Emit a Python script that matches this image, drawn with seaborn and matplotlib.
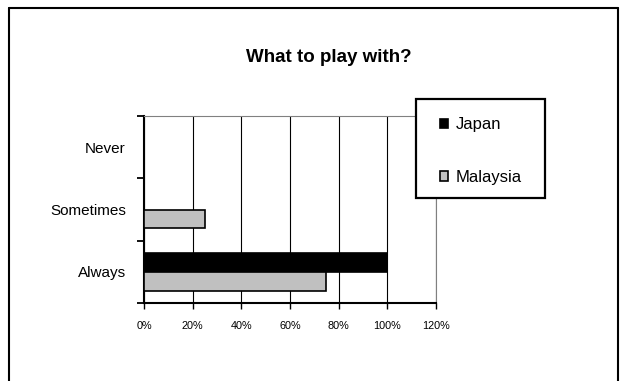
import matplotlib
matplotlib.use("Agg")
import matplotlib.pyplot as plt
import matplotlib.ticker as mticker
from matplotlib.patches import Rectangle, Patch
from matplotlib.lines import Line2D
import seaborn as sns
import pandas as pd

# Survey answers (share of respondents, %)
answers = ["Never", "Sometimes", "Always"]
countries = ["Japan", "Malaysia"]
japan = [0, 0, 100]
malaysia = [0, 25, 75]
x_ticks = [0, 20, 40, 60, 80, 100, 120]

colors = {"Japan": "#000000", "Malaysia": "#c0c0c0"}

df = pd.DataFrame({
    "Answer": answers * 2,
    "Country": ["Japan"] * len(answers) + ["Malaysia"] * len(answers),
    "Share": japan + malaysia,
})

sns.set_theme(style="white")
plt.rcParams["font.family"] = ["Liberation Sans", "DejaVu Sans"]
plt.rcParams.update({"text.color": "black", "axes.labelcolor": "black",
                     "xtick.color": "black", "ytick.color": "black"})

fig = plt.figure(figsize=(6.26, 3.81), dpi=100)
fig.patch.set_facecolor("white")
ax = fig.add_axes([144 / 626, 1 - 303 / 381, (436 - 144) / 626, (303 - 116) / 381])

sns.barplot(data=df, y="Answer", x="Share", hue="Country", order=answers,
            hue_order=countries, palette=colors, orient="h", width=0.6,
            edgecolor="black", linewidth=1.2, legend=False, ax=ax, zorder=3)

ax.set_xlim(0, 120)
ax.set_ylim(2.5, -0.5)
ax.set_xticks(x_ticks)
ax.xaxis.set_major_formatter(mticker.FuncFormatter(lambda v, _: f"{v:.0f}%"))
ax.grid(axis="x", color="black", linewidth=0.8, zorder=0)
ax.set_axisbelow(True)

# category boundaries carry the ticks; names sit between them
ax.set_yticks([-0.5, 0.5, 1.5, 2.5])
ax.set_yticklabels([])
ax.set_yticks(range(len(answers)), minor=True)
ax.set_yticklabels(answers, minor=True)
ax.tick_params(axis="y", which="major", direction="out", length=5, width=1.3,
               color="black", left=True)
ax.tick_params(axis="y", which="minor", length=0, pad=13, labelsize=11,
               labelcolor="black")
ax.tick_params(axis="x", direction="out", length=4, width=1.0, color="black",
               bottom=True, pad=9, labelsize=7.8, labelcolor="black")
ax.set_xlabel("")
ax.set_ylabel("")

for side in ("left", "bottom"):
    ax.spines[side].set_color("black")
    ax.spines[side].set_linewidth(1.5)
for side in ("top", "right"):
    ax.spines[side].set_color("#808080")
    ax.spines[side].set_linewidth(0.8)

fig.text(329 / 626, 1 - 58 / 381, "What to play with?", ha="center", va="center",
         fontsize=13.5, fontweight="bold", color="black")

# legend box
lx0, lx1, ly0, ly1 = 416 / 626, 545 / 626, 1 - 198 / 381, 1 - 99 / 381
fig.patches.append(Rectangle((lx0, ly0), lx1 - lx0, ly1 - ly0, transform=fig.transFigure,
                             facecolor="white", edgecolor="black", linewidth=1.6, zorder=5))
handles = [Patch(facecolor=colors[c], edgecolor="black", linewidth=1.2) for c in countries]
leg = fig.legend(handles, countries, loc="center left",
                 bbox_to_anchor=(440 / 626, 1 - 151 / 381),
                 frameon=False, fontsize=12, handlelength=0.5, handleheight=0.5,
                 handletextpad=0.45, labelspacing=2.25, borderaxespad=0, borderpad=0)
leg.set_zorder(6)
for t in leg.get_texts():
    t.set_color("black")

# outer chart frame
frame_kw = dict(transform=fig.transFigure, color="black", linewidth=1.5)
fig.lines.append(Line2D([9 / 626, 9 / 626], [0, 1 - 8 / 381], **frame_kw))
fig.lines.append(Line2D([9 / 626, 618 / 626], [1 - 8 / 381, 1 - 8 / 381], **frame_kw))
fig.lines.append(Line2D([618 / 626, 618 / 626], [0, 1 - 8 / 381], **frame_kw))

fig.savefig("out.png", dpi=100, facecolor="white")
